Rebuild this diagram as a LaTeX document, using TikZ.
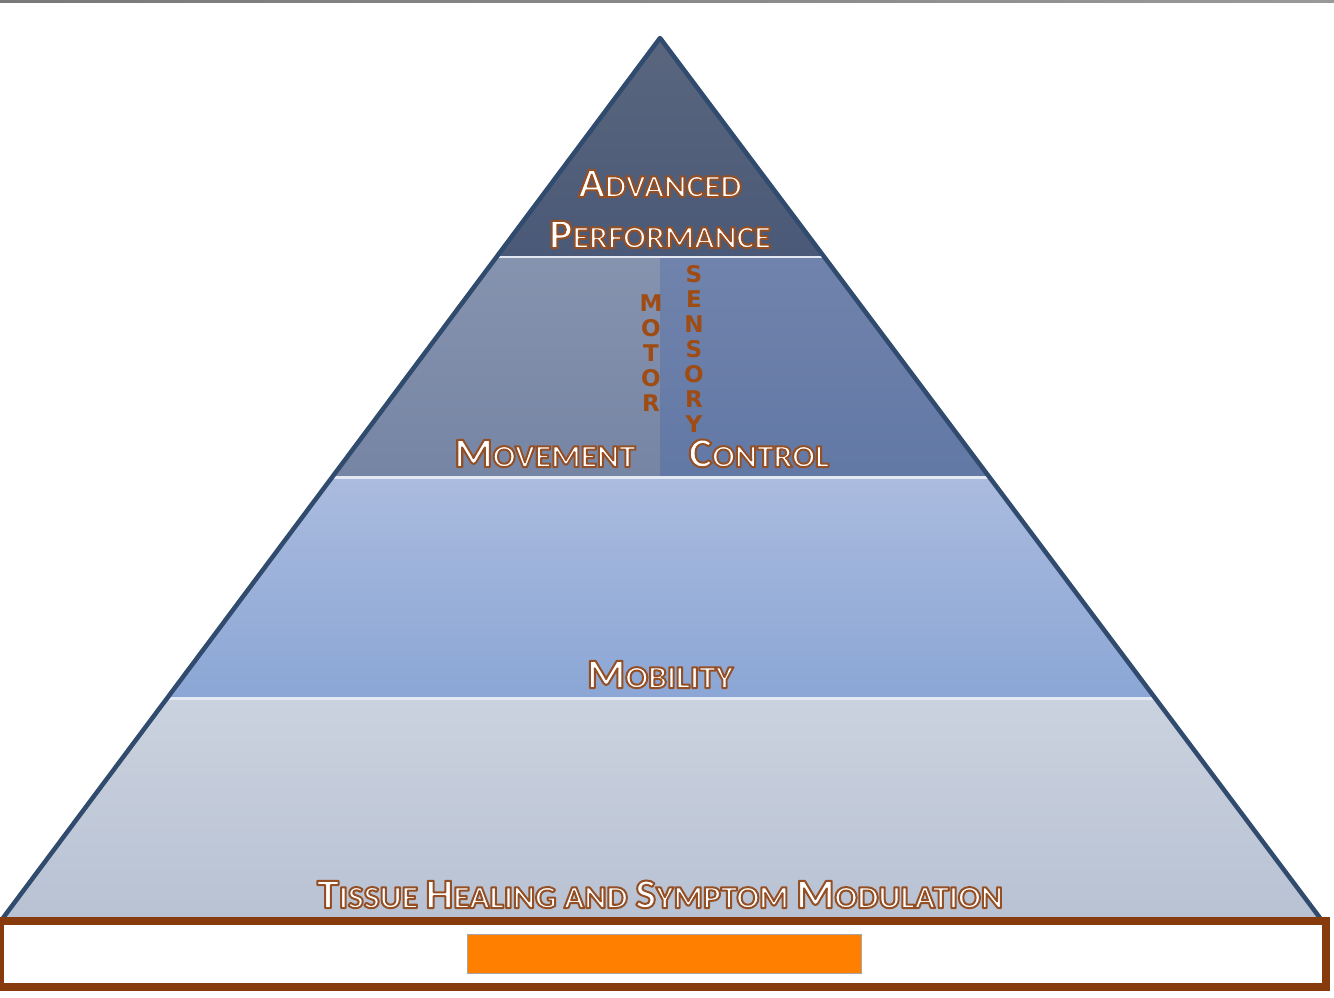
\documentclass[tikz,border=0pt]{standalone}
\usepackage{fontspec}
\setmainfont{Carlito}[FakeStretch=1.05]
\newfontfamily\motorfont{DejaVu Sans}
\usetikzlibrary{calc}
\definecolor{mbrown}{HTML}{9E4C14}
\definecolor{edgeblue}{HTML}{304B6D}
\definecolor{layerline}{HTML}{E2E9F2}
\definecolor{basebrown}{HTML}{873A0C}
\definecolor{baseorange}{HTML}{FF8000}
\newcommand\glow[1]{{\color{white}\special{pdf:literal direct q 2 Tr 2 w 1 j 0.58 0.31 0.14 RG}#1\special{pdf:literal direct Q}}}
\newcommand\Bg{\fontsize{42}{42}\selectfont}
\newcommand\Sm{\fontsize{32}{32}\selectfont}
\tikzset{
 lbl/.style={inner sep=0pt, anchor=base, font=\bfseries},
 vert/.style={inner sep=0pt, align=center, text=mbrown,
   font=\motorfont\bfseries\fontsize{23}{25}\selectfont},
 layeredge/.style={draw=layerline, line width=2.5pt},
 outline/.style={draw=edgeblue, line width=4.5pt, line join=round},
}
\begin{document}
\begin{tikzpicture}[x=1pt,y=-1pt]
\useasboundingbox (0,0) rectangle (1334,997);
\fill[white] (0,0) rectangle (1334,997);
\fill[left color=gray!95!black, right color=gray!80] (0,0) rectangle (1334,2.5);
\coordinate (apex) at (660,38);
\coordinate (bl) at (3,918);
\coordinate (br) at (1320,918);
\coordinate (l1) at ($(apex)!0.2486!(bl)$);
\coordinate (r1) at ($(apex)!0.2486!(br)$);
\coordinate (l2) at ($(apex)!0.4994!(bl)$);
\coordinate (r2) at ($(apex)!0.4994!(br)$);
\coordinate (l3) at ($(apex)!0.7503!(bl)$);
\coordinate (r3) at ($(apex)!0.7503!(br)$);
\coordinate (m1) at (apex|-l1);
\coordinate (m2) at (apex|-l2);
% layers
\fill[top color={rgb,255:red,90;green,102;blue,126}, bottom color={rgb,255:red,74;green,89;blue,119}] (apex) -- (r1) -- (l1) -- cycle;
\fill[top color={rgb,255:red,134;green,147;blue,175}, bottom color={rgb,255:red,118;green,133;blue,164}] (l1) -- (m1) -- (m2) -- (l2) -- cycle;
\fill[top color={rgb,255:red,112;green,131;blue,172}, bottom color={rgb,255:red,98;green,120;blue,165}] (m1) -- (r1) -- (r2) -- (m2) -- cycle;
\fill[top color={rgb,255:red,170;green,187;blue,222}, bottom color={rgb,255:red,139;green,166;blue,213}] (l2) -- (r2) -- (r3) -- (l3) -- cycle;
\fill[top color={rgb,255:red,203;green,210;blue,223}, bottom color={rgb,255:red,184;green,194;blue,211}] (l3) -- (r3) -- (br) -- (bl) -- cycle;
\draw[layeredge] (l1) -- (r1);
\draw[layeredge] (l2) -- (r2);
\draw[layeredge] (l3) -- (r3);
\draw[outline] (bl) -- (apex) -- (br);
% base
\node[draw=basebrown, line width=8.5pt, fill=white, minimum width=1326pt, minimum height=66pt, inner sep=0pt] (base) at (663,954) {};
\node[draw=gray!70, fill=baseorange, line width=0.8pt, minimum width=394pt, minimum height=39pt, inner sep=0pt] (bar) at (664,953.5) {};
% labels
\node[lbl] (adv) at (660,197) {\glow{\Bg A\Sm DVANCED}};
\node[lbl] (perf) at (660,248) {\glow{\Bg P\Sm ERFORMANCE}};
\node[lbl] (move) at (545,467) {\glow{\Bg M\Sm OVEMENT}};
\node[lbl] (ctrl) at (759,467) {\glow{\Bg C\Sm ONTROL}};
\node[lbl] (mob) at (660,688) {\glow{\Bg M\Sm OBILITY}};
\node[lbl] (tis) at (660,908) {\glow{\Bg T\Sm ISSUE \Bg H\Sm EALING AND \Bg S\Sm YMPTOM \Bg M\Sm ODULATION}};
\node[vert] (motor) at (651,353.5) {M\\O\\T\\O\\R};
\node[vert] (sens) at (694,348.5) {S\\E\\N\\S\\O\\R\\Y};
\end{tikzpicture}
\end{document}
